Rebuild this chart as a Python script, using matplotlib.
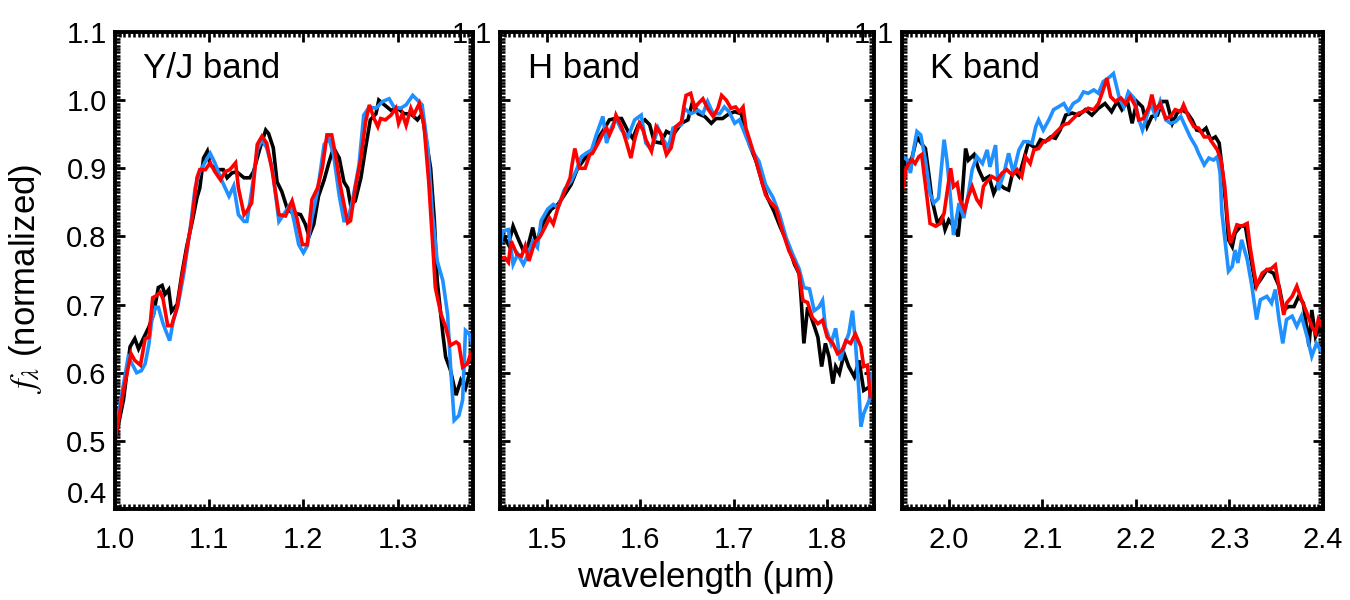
import matplotlib
matplotlib.use("Agg")
import matplotlib.pyplot as plt
from matplotlib.ticker import MultipleLocator

plt.rcParams['font.family'] = ['Liberation Sans', 'DejaVu Sans']
plt.rcParams['mathtext.fontset'] = 'stix'

band_names = ["Y/J band", "H band", "K band"]
band_xlims = [(1.0, 1.38), (1.45, 1.85), (1.95, 2.4)]
line_colors = ["black", "#1E90FF", "red"]

# ---- Y/J band ----
yj_wave_black = [1.0, 1.009, 1.016, 1.021, 1.025, 1.030, 1.036, 1.041, 1.046, 1.050, 1.053, 1.057,
                 1.060, 1.066, 1.071, 1.076, 1.082, 1.087, 1.090, 1.094, 1.098, 1.101, 1.108, 1.115,
                 1.119, 1.124, 1.129, 1.137, 1.143, 1.147, 1.154, 1.160, 1.163, 1.168, 1.172, 1.177,
                 1.183, 1.188, 1.197, 1.202, 1.206, 1.211, 1.216, 1.222, 1.227, 1.232, 1.238, 1.243,
                 1.247, 1.250, 1.255, 1.261, 1.266, 1.271, 1.277, 1.280, 1.286, 1.293, 1.300, 1.307,
                 1.314, 1.321, 1.326, 1.330, 1.335, 1.339, 1.342, 1.348, 1.351, 1.356, 1.362, 1.367,
                 1.372, 1.378, 1.38]
yj_flux_black = [0.500, 0.560, 0.638, 0.650, 0.635, 0.650, 0.667, 0.686, 0.725, 0.728, 0.715, 0.722,
                 0.690, 0.700, 0.745, 0.784, 0.822, 0.857, 0.871, 0.915, 0.925, 0.905, 0.898, 0.898,
                 0.886, 0.893, 0.895, 0.886, 0.886, 0.895, 0.930, 0.956, 0.951, 0.930, 0.880, 0.866,
                 0.840, 0.835, 0.832, 0.818, 0.800, 0.818, 0.859, 0.883, 0.908, 0.930, 0.915, 0.880,
                 0.871, 0.847, 0.852, 0.886, 0.930, 0.971, 0.980, 1.000, 0.993, 0.985, 0.988, 0.980,
                 0.980, 0.971, 0.980, 0.944, 0.900, 0.823, 0.735, 0.657, 0.623, 0.604, 0.567, 0.589,
                 0.577, 0.608, 0.610]

yj_wave_blue = [1.0, 1.014, 1.020, 1.023, 1.028, 1.032, 1.036, 1.039, 1.043, 1.046, 1.051, 1.058,
                1.062, 1.067, 1.073, 1.080, 1.085, 1.090, 1.096, 1.101, 1.106, 1.112, 1.117, 1.121,
                1.126, 1.131, 1.137, 1.140, 1.145, 1.151, 1.156, 1.161, 1.167, 1.174, 1.179, 1.186,
                1.190, 1.195, 1.200, 1.204, 1.209, 1.215, 1.222, 1.227, 1.232, 1.238, 1.243, 1.247,
                1.252, 1.259, 1.264, 1.270, 1.277, 1.284, 1.291, 1.296, 1.303, 1.309, 1.316, 1.321,
                1.326, 1.332, 1.337, 1.342, 1.348, 1.353, 1.356, 1.360, 1.365, 1.369, 1.372, 1.376,
                1.38]
yj_flux_blue = [0.510, 0.623, 0.608, 0.600, 0.603, 0.613, 0.642, 0.677, 0.696, 0.696, 0.672, 0.647,
                0.677, 0.700, 0.745, 0.813, 0.871, 0.895, 0.910, 0.922, 0.908, 0.886, 0.871, 0.859,
                0.874, 0.832, 0.822, 0.822, 0.866, 0.927, 0.942, 0.930, 0.900, 0.822, 0.832, 0.847,
                0.823, 0.788, 0.776, 0.786, 0.827, 0.866, 0.935, 0.944, 0.920, 0.860, 0.823, 0.823,
                0.852, 0.905, 0.978, 0.990, 0.988, 0.998, 1.002, 0.990, 0.988, 0.993, 1.007, 1.000,
                0.993, 0.930, 0.832, 0.764, 0.735, 0.686, 0.613, 0.530, 0.537, 0.560, 0.662, 0.657,
                0.638]

yj_wave_red = [1.0, 1.009, 1.017, 1.021, 1.027, 1.032, 1.036, 1.040, 1.044, 1.048, 1.051, 1.056,
               1.060, 1.066, 1.071, 1.076, 1.082, 1.087, 1.090, 1.096, 1.101, 1.106, 1.112, 1.117,
               1.122, 1.128, 1.131, 1.137, 1.140, 1.145, 1.151, 1.156, 1.161, 1.167, 1.174, 1.181,
               1.188, 1.193, 1.199, 1.204, 1.209, 1.215, 1.220, 1.225, 1.230, 1.234, 1.239, 1.247,
               1.250, 1.255, 1.261, 1.266, 1.270, 1.275, 1.279, 1.282, 1.287, 1.293, 1.298, 1.301,
               1.305, 1.309, 1.314, 1.317, 1.323, 1.328, 1.333, 1.337, 1.340, 1.346, 1.351, 1.356,
               1.362, 1.365, 1.369, 1.374, 1.378, 1.38]
yj_flux_red = [0.500, 0.574, 0.628, 0.618, 0.611, 0.650, 0.652, 0.710, 0.713, 0.718, 0.708, 0.669,
               0.669, 0.696, 0.740, 0.779, 0.828, 0.886, 0.898, 0.898, 0.908, 0.895, 0.883, 0.895,
               0.898, 0.908, 0.871, 0.832, 0.837, 0.849, 0.935, 0.947, 0.937, 0.895, 0.832, 0.830,
               0.852, 0.827, 0.788, 0.788, 0.854, 0.871, 0.900, 0.949, 0.949, 0.920, 0.876, 0.820,
               0.823, 0.871, 0.915, 0.968, 0.993, 0.973, 0.961, 0.973, 0.971, 0.978, 0.988, 0.966,
               0.980, 0.963, 0.988, 0.978, 0.995, 0.963, 0.880, 0.793, 0.725, 0.686, 0.667, 0.640,
               0.645, 0.642, 0.608, 0.613, 0.630, 0.613]

# ---- H band ----
h_wave_black = [1.450, 1.455, 1.459, 1.464, 1.469, 1.475, 1.480, 1.485, 1.489, 1.494, 1.500, 1.505,
                1.512, 1.519, 1.526, 1.533, 1.541, 1.548, 1.555, 1.562, 1.567, 1.573, 1.580, 1.587,
                1.592, 1.598, 1.605, 1.610, 1.615, 1.622, 1.628, 1.635, 1.644, 1.651, 1.656, 1.662,
                1.669, 1.676, 1.681, 1.688, 1.695, 1.701, 1.708, 1.713, 1.717, 1.724, 1.731, 1.736,
                1.743, 1.750, 1.758, 1.765, 1.770, 1.772, 1.775, 1.779, 1.784, 1.790, 1.794, 1.798,
                1.802, 1.806, 1.809, 1.813, 1.818, 1.823, 1.829, 1.834, 1.839, 1.845, 1.850]
h_flux_black = [0.793, 0.798, 0.788, 0.815, 0.798, 0.779, 0.786, 0.813, 0.788, 0.813, 0.830, 0.840,
                0.847, 0.861, 0.876, 0.900, 0.915, 0.925, 0.944, 0.959, 0.971, 0.973, 0.973, 0.954,
                0.944, 0.964, 0.971, 0.964, 0.939, 0.937, 0.954, 0.949, 0.966, 0.971, 0.998, 0.980,
                0.976, 0.966, 0.973, 0.973, 0.980, 0.983, 0.980, 0.954, 0.934, 0.910, 0.876, 0.857,
                0.837, 0.813, 0.789, 0.759, 0.745, 0.710, 0.643, 0.696, 0.677, 0.652, 0.609, 0.643,
                0.623, 0.584, 0.609, 0.599, 0.628, 0.609, 0.594, 0.618, 0.574, 0.579, 0.579]

h_wave_blue = [1.450, 1.453, 1.459, 1.464, 1.469, 1.475, 1.480, 1.485, 1.490, 1.494, 1.501, 1.507,
               1.512, 1.519, 1.526, 1.532, 1.537, 1.542, 1.548, 1.553, 1.560, 1.564, 1.569, 1.574,
               1.580, 1.587, 1.594, 1.601, 1.606, 1.612, 1.619, 1.624, 1.630, 1.635, 1.644, 1.647,
               1.654, 1.662, 1.667, 1.672, 1.678, 1.685, 1.690, 1.695, 1.701, 1.706, 1.711, 1.718,
               1.727, 1.734, 1.742, 1.749, 1.756, 1.763, 1.770, 1.775, 1.781, 1.786, 1.791, 1.795,
               1.798, 1.804, 1.809, 1.814, 1.820, 1.823, 1.827, 1.830, 1.834, 1.836, 1.839, 1.845,
               1.848, 1.850]
h_flux_blue = [0.784, 0.808, 0.810, 0.759, 0.774, 0.759, 0.774, 0.793, 0.784, 0.823, 0.840, 0.847,
               0.842, 0.869, 0.881, 0.898, 0.917, 0.922, 0.927, 0.949, 0.976, 0.937, 0.959, 0.973,
               0.956, 0.946, 0.971, 0.978, 0.937, 0.927, 0.959, 0.944, 0.930, 0.959, 0.964, 0.988,
               0.980, 0.985, 0.980, 0.998, 0.980, 0.980, 0.990, 0.983, 0.966, 0.971, 0.954, 0.930,
               0.910, 0.876, 0.857, 0.832, 0.798, 0.774, 0.752, 0.725, 0.723, 0.691, 0.696, 0.706,
               0.667, 0.643, 0.665, 0.618, 0.647, 0.657, 0.691, 0.647, 0.570, 0.521, 0.540, 0.560,
               0.599, 0.599]

h_wave_red = [1.450, 1.455, 1.459, 1.462, 1.468, 1.473, 1.477, 1.481, 1.487, 1.493, 1.498, 1.503,
              1.507, 1.512, 1.519, 1.525, 1.527, 1.530, 1.535, 1.541, 1.546, 1.549, 1.555, 1.560,
              1.564, 1.567, 1.571, 1.574, 1.580, 1.585, 1.590, 1.594, 1.599, 1.603, 1.606, 1.612,
              1.617, 1.622, 1.628, 1.633, 1.638, 1.644, 1.647, 1.649, 1.654, 1.658, 1.662, 1.667,
              1.672, 1.678, 1.683, 1.687, 1.692, 1.697, 1.702, 1.706, 1.710, 1.713, 1.718, 1.724,
              1.729, 1.734, 1.740, 1.745, 1.752, 1.759, 1.766, 1.770, 1.774, 1.779, 1.784, 1.790,
              1.795, 1.800, 1.806, 1.811, 1.816, 1.820, 1.825, 1.830, 1.836, 1.839, 1.843, 1.846,
              1.850]
h_flux_red = [0.767, 0.769, 0.762, 0.793, 0.774, 0.771, 0.786, 0.764, 0.791, 0.800, 0.813, 0.827,
              0.818, 0.842, 0.866, 0.886, 0.905, 0.929, 0.900, 0.900, 0.920, 0.922, 0.937, 0.951,
              0.959, 0.949, 0.961, 0.978, 0.961, 0.939, 0.915, 0.942, 0.966, 0.956, 0.942, 0.925,
              0.961, 0.951, 0.920, 0.930, 0.961, 0.968, 0.993, 1.007, 1.010, 0.988, 0.995, 1.002,
              0.988, 0.976, 0.988, 1.007, 1.000, 0.988, 0.990, 0.983, 0.990, 0.959, 0.937, 0.910,
              0.886, 0.861, 0.849, 0.842, 0.808, 0.779, 0.759, 0.745, 0.706, 0.703, 0.681, 0.672,
              0.677, 0.652, 0.643, 0.628, 0.633, 0.647, 0.643, 0.657, 0.638, 0.609, 0.611, 0.565,
              0.565]

# ---- K band ----
k_wave_black = [1.951, 1.956, 1.961, 1.966, 1.972, 1.975, 1.979, 1.982, 1.988, 1.993, 1.996, 2.000,
                2.005, 2.010, 2.014, 2.018, 2.021, 2.027, 2.032, 2.037, 2.043, 2.048, 2.053, 2.059,
                2.064, 2.069, 2.075, 2.080, 2.085, 2.093, 2.098, 2.103, 2.109, 2.114, 2.119, 2.125,
                2.132, 2.139, 2.146, 2.153, 2.160, 2.167, 2.174, 2.180, 2.185, 2.191, 2.196, 2.201,
                2.207, 2.212, 2.217, 2.223, 2.228, 2.233, 2.239, 2.244, 2.249, 2.255, 2.260, 2.265,
                2.271, 2.275, 2.280, 2.285, 2.289, 2.292, 2.296, 2.299, 2.303, 2.306, 2.312, 2.317,
                2.322, 2.328, 2.333, 2.340, 2.347, 2.353, 2.358, 2.363, 2.369, 2.374, 2.379, 2.385,
                2.388, 2.392, 2.397, 2.400]
k_flux_black = [0.912, 0.902, 0.917, 0.946, 0.934, 0.929, 0.888, 0.854, 0.819, 0.829, 0.810, 0.824,
                0.815, 0.800, 0.854, 0.929, 0.912, 0.920, 0.898, 0.883, 0.888, 0.863, 0.878, 0.871,
                0.868, 0.898, 0.888, 0.912, 0.937, 0.929, 0.942, 0.939, 0.946, 0.944, 0.956, 0.978,
                0.981, 0.978, 0.986, 0.978, 0.988, 0.995, 0.983, 0.998, 0.986, 0.998, 0.966, 0.998,
                0.990, 0.961, 0.976, 0.978, 0.998, 0.998, 0.966, 0.981, 0.986, 0.981, 0.971, 0.956,
                0.954, 0.959, 0.942, 0.946, 0.937, 0.902, 0.849, 0.795, 0.785, 0.805, 0.815, 0.815,
                0.775, 0.727, 0.736, 0.751, 0.746, 0.727, 0.692, 0.697, 0.697, 0.712, 0.702, 0.639,
                0.692, 0.653, 0.668, 0.658]

k_wave_blue = [1.951, 1.956, 1.959, 1.963, 1.966, 1.970, 1.975, 1.980, 1.984, 1.989, 1.995, 1.998,
               2.002, 2.005, 2.011, 2.016, 2.021, 2.025, 2.030, 2.036, 2.041, 2.044, 2.050, 2.053,
               2.059, 2.064, 2.069, 2.075, 2.080, 2.085, 2.089, 2.093, 2.096, 2.101, 2.107, 2.112,
               2.117, 2.123, 2.128, 2.133, 2.139, 2.144, 2.149, 2.155, 2.160, 2.165, 2.172, 2.176,
               2.182, 2.187, 2.192, 2.198, 2.203, 2.207, 2.212, 2.216, 2.221, 2.226, 2.232, 2.237,
               2.242, 2.248, 2.253, 2.258, 2.264, 2.267, 2.273, 2.278, 2.283, 2.287, 2.290, 2.292,
               2.296, 2.299, 2.303, 2.306, 2.309, 2.313, 2.319, 2.324, 2.329, 2.333, 2.340, 2.345,
               2.349, 2.353, 2.357, 2.361, 2.367, 2.372, 2.377, 2.383, 2.388, 2.393, 2.397, 2.400]
k_flux_blue = [0.917, 0.912, 0.893, 0.932, 0.954, 0.949, 0.912, 0.863, 0.849, 0.856, 0.942, 0.912,
               0.854, 0.802, 0.849, 0.827, 0.863, 0.898, 0.917, 0.907, 0.927, 0.902, 0.934, 0.868,
               0.893, 0.922, 0.893, 0.927, 0.939, 0.939, 0.937, 0.961, 0.971, 0.956, 0.971, 0.986,
               0.990, 0.995, 0.983, 0.995, 1.000, 1.012, 1.010, 1.015, 1.010, 1.027, 1.034, 1.039,
               1.005, 0.990, 1.012, 1.003, 0.973, 0.956, 0.978, 0.995, 0.976, 0.998, 0.971, 0.966,
               0.968, 0.976, 0.961, 0.946, 0.932, 0.922, 0.905, 0.915, 0.912, 0.917, 0.893, 0.834,
               0.785, 0.749, 0.756, 0.780, 0.761, 0.795, 0.766, 0.727, 0.678, 0.707, 0.712, 0.702,
               0.722, 0.678, 0.643, 0.678, 0.683, 0.668, 0.683, 0.653, 0.624, 0.643, 0.634, 0.629]

k_wave_red = [1.951, 1.954, 1.957, 1.961, 1.964, 1.968, 1.971, 1.973, 1.977, 1.980, 1.986, 1.991,
              1.995, 1.998, 2.002, 2.005, 2.009, 2.012, 2.017, 2.021, 2.025, 2.030, 2.034, 2.037,
              2.041, 2.046, 2.052, 2.057, 2.062, 2.068, 2.073, 2.078, 2.082, 2.087, 2.091, 2.096,
              2.101, 2.107, 2.112, 2.117, 2.123, 2.128, 2.133, 2.139, 2.144, 2.149, 2.155, 2.160,
              2.165, 2.169, 2.173, 2.178, 2.184, 2.189, 2.194, 2.200, 2.203, 2.208, 2.214, 2.217,
              2.221, 2.226, 2.232, 2.237, 2.242, 2.248, 2.251, 2.257, 2.262, 2.267, 2.273, 2.278,
              2.281, 2.287, 2.291, 2.295, 2.298, 2.301, 2.305, 2.308, 2.313, 2.319, 2.322, 2.326,
              2.329, 2.335, 2.340, 2.345, 2.349, 2.354, 2.358, 2.361, 2.367, 2.372, 2.377, 2.383,
              2.388, 2.392, 2.395, 2.399, 2.400]
k_flux_red = [0.871, 0.898, 0.907, 0.912, 0.907, 0.917, 0.920, 0.898, 0.854, 0.819, 0.815, 0.819,
              0.834, 0.863, 0.900, 0.873, 0.878, 0.854, 0.839, 0.859, 0.873, 0.854, 0.846, 0.873,
              0.881, 0.888, 0.883, 0.893, 0.898, 0.890, 0.898, 0.888, 0.917, 0.907, 0.927, 0.929,
              0.939, 0.942, 0.949, 0.956, 0.964, 0.966, 0.973, 0.981, 0.983, 0.988, 0.986, 0.995,
              1.015, 1.032, 1.005, 0.998, 1.003, 0.995, 1.005, 0.990, 0.971, 0.973, 0.990, 1.008,
              0.986, 0.995, 0.973, 0.976, 0.986, 0.983, 0.993, 0.973, 0.961, 0.959, 0.946, 0.946,
              0.939, 0.927, 0.912, 0.873, 0.824, 0.790, 0.805, 0.817, 0.815, 0.819, 0.785, 0.751,
              0.727, 0.746, 0.751, 0.753, 0.758, 0.717, 0.685, 0.702, 0.712, 0.727, 0.707, 0.687,
              0.668, 0.658, 0.678, 0.668, 0.673]

panel_series = [
    [(yj_wave_black, yj_flux_black), (yj_wave_blue, yj_flux_blue), (yj_wave_red, yj_flux_red)],
    [(h_wave_black, h_flux_black), (h_wave_blue, h_flux_blue), (h_wave_red, h_flux_red)],
    [(k_wave_black, k_flux_black), (k_wave_blue, k_flux_blue), (k_wave_red, k_flux_red)],
]

fig = plt.figure(figsize=(13.5, 6), dpi=100)
bottom, height = 0.1517, 0.795
lefts = [115 / 1350, 500 / 1350, 902 / 1350]
widths = [358 / 1350, 374 / 1350, 421 / 1350]

for i in range(3):
    ax = fig.add_axes([lefts[i], bottom, widths[i], height])
    ax.set_zorder(3 - i)
    ax.patch.set_alpha(0)
    for (wave, flux), col in zip(panel_series[i], line_colors):
        ax.plot(wave, flux, color=col, lw=2.6, solid_joinstyle='miter')
    ax.set_xlim(*band_xlims[i])
    ax.set_ylim(0.4, 1.1)
    ax.xaxis.set_major_locator(MultipleLocator(0.1))
    ax.xaxis.set_minor_locator(MultipleLocator(0.005))
    ax.yaxis.set_major_locator(MultipleLocator(0.1))
    ax.yaxis.set_minor_locator(MultipleLocator(0.005))
    ax.tick_params(which='both', direction='in', top=True, right=True)
    ax.tick_params(which='major', length=7, width=2.0, labelsize=21)
    ax.tick_params(which='minor', length=3.5, width=1.8)
    ax.tick_params(axis='y', pad=6)
    ax.tick_params(axis='x', pad=12)
    for sp in ax.spines.values():
        sp.set_linewidth(2.8)
    yt = [0.4, 0.5, 0.6, 0.7, 0.8, 0.9, 1.0, 1.1]
    ax.set_yticks(yt)
    if i == 0:
        ax.set_yticklabels(["%.1f" % v for v in yt])
        ax.get_yticklabels()[0].set_va('bottom')
    else:
        ax.set_yticklabels([""] * 7 + ["1.1"])
    ax.annotate(band_names[i], xy=(0, 1), xycoords='axes fraction',
                xytext=(20, -33), textcoords='offset points',
                fontsize=25, va='baseline', ha='left')

fig.text(706 / 1350, 1 - 587 / 600, "wavelength (\u03bcm)", fontsize=25,
         ha='center', va='baseline')
fig.text(0.019, 0.535, r"$f_{\lambda}$ (normalized)", fontsize=25,
         rotation=90, ha='center', va='center')

fig.savefig("out.png", dpi=100)
